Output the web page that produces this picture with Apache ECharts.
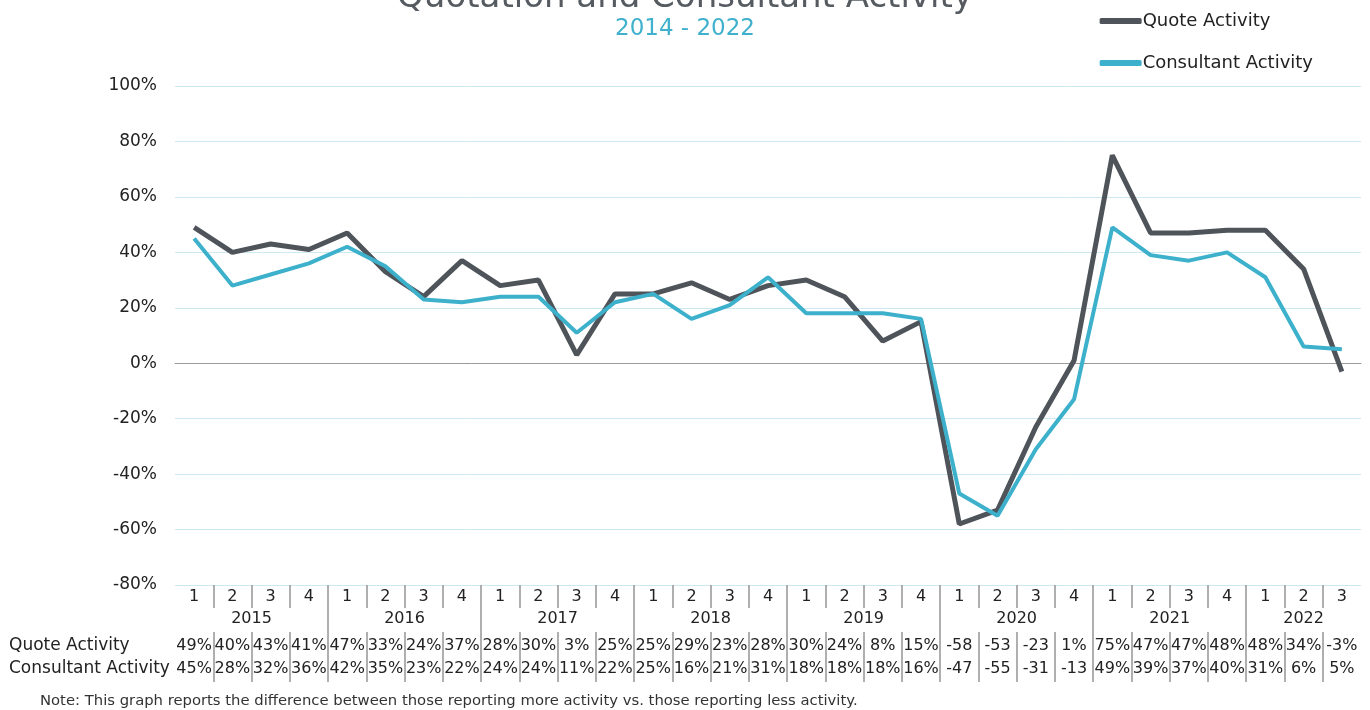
<!DOCTYPE html>
<html>
<head>
<meta charset="utf-8">
<title>Quotation and Consultant Activity</title>
<script src="https://cdn.jsdelivr.net/npm/echarts@6/dist/echarts.min.js"></script>
<style>
  html, body { margin: 0; padding: 0; background: #fff; }
  #chart { width: 1370px; height: 710px; }
</style>
</head>
<body>
<div id="chart"></div>
<script>
// 年份与每年季度数
var years = ['2015', '2016', '2017', '2018', '2019', '2020', '2021', '2022'];
var quartersPerYear = [4, 4, 4, 4, 4, 4, 4, 3];

// 数据（百分比）
var quoteActivity = [49, 40, 43, 41, 47, 33, 24, 37, 28, 30, 3, 25, 25, 29, 23, 28,
  30, 24, 8, 15, -58, -53, -23, 1, 75, 47, 47, 48, 48, 34, -3];
var consultantActivity = [45, 28, 32, 36, 42, 35, 23, 22, 24, 24, 11, 22, 25, 16, 21, 31,
  18, 18, 18, 16, -47, -55, -31, -13, 49, 39, 37, 40, 31, 6, 5];

var yTicks = [-80, -60, -40, -20, 0, 20, 40, 60, 80, 100];

// 季度标签
var quarters = [];
var yearBounds = [];
var yearCenters = [];
var pos = 0;
for (var i = 0; i < years.length; i++) {
  for (var q = 1; q <= quartersPerYear[i]; q++) quarters.push(String(q));
  yearCenters.push(pos + quartersPerYear[i] / 2);
  pos += quartersPerYear[i];
  if (i < years.length - 1) yearBounds.push(pos);
}
var n = quarters.length;
var cellCenters = [];
var innerBounds = [];
for (var k = 0; k < n; k++) {
  cellCenters.push(k + 0.5);
  if (k > 0) innerBounds.push(k);
}

function fmtCell(v) {
  return v <= -10 ? String(v) : v + '%';
}

var FONT = 'DejaVu Sans';
var tickStyle = { color: '#959595', width: 1.5 };

var chart = echarts.init(document.getElementById('chart'));
chart.setOption({
  animation: false,
  textStyle: { fontFamily: FONT },
  title: [{
    text: 'Quotation and Consultant Activity',
    subtext: '2014 - 2022',
    left: 'center',
    top: -24,
    itemGap: 3,
    textStyle: { fontFamily: FONT, fontSize: 34, fontWeight: 'normal', color: '#555b60' },
    subtextStyle: { fontFamily: FONT, fontSize: 23, color: '#3fb1cc' }
  }, {
    text: 'Note: This graph reports the difference between those reporting more activity vs. those reporting less activity.',
    left: 35,
    top: 689,
    textStyle: { fontFamily: FONT, fontSize: 14.8, fontWeight: 'normal', color: '#333' }
  }],
  legend: {
    orient: 'vertical',
    right: 52,
    top: 7,
    itemGap: 24,
    itemWidth: 42,
    itemHeight: 6,
    icon: 'roundRect',
    textStyle: { fontFamily: FONT, fontSize: 18, color: '#222', padding: [0, 0, 0, -4] },
    data: ['Quote Activity', 'Consultant Activity']
  },
  grid: { left: 175, right: 9, top: 86, bottom: 125 },
  xAxis: [{
    type: 'category',
    data: quarters,
    boundaryGap: true,
    axisLine: { onZero: true, lineStyle: { color: '#9a9a9a', width: 1 } },
    axisTick: { show: false },
    axisLabel: { show: false }
  }, {
    // 季度行
    type: 'value',
    position: 'bottom',
    min: 0, max: n,
    offset: 0,
    splitLine: { show: false },
    axisLine: { show: false },
    axisTick: { show: true, customValues: innerBounds, length: 23, lineStyle: tickStyle },
    axisLabel: {
      customValues: cellCenters,
      margin: 4,
      verticalAlign: 'top',
      fontSize: 16, color: '#222',
      formatter: function (v) { return quarters[Math.floor(v)]; }
    }
  }, {
    // 年份行
    type: 'value',
    position: 'bottom',
    min: 0, max: n,
    offset: 0,
    splitLine: { show: false },
    axisLine: { show: false },
    axisTick: { show: true, customValues: yearBounds, length: 47, lineStyle: tickStyle },
    axisLabel: {
      customValues: yearCenters,
      margin: 26,
      verticalAlign: 'top',
      fontSize: 16, color: '#222',
      formatter: function (v) { return years[yearCenters.indexOf(v)]; }
    }
  }, {
    // 数据表
    type: 'value',
    position: 'bottom',
    min: 0, max: n,
    offset: 47,
    name: 'Quote Activity\nConsultant Activity',
    nameLocation: 'start',
    nameGap: 166,
    nameTextStyle: { align: 'left', verticalAlign: 'top', fontSize: 17, lineHeight: 23, color: '#222', padding: [2, 0, 0, 0] },
    splitLine: { show: false },
    axisLine: { show: false },
    axisTick: { show: true, customValues: innerBounds, length: 50, lineStyle: tickStyle },
    axisLabel: {
      customValues: cellCenters,
      margin: 2,
      verticalAlign: 'top',
      lineHeight: 23,
      fontSize: 16, color: '#222',
      formatter: function (v) {
        var i = Math.floor(v);
        return fmtCell(quoteActivity[i]) + '\n' + fmtCell(consultantActivity[i]);
      }
    }
  }],
  yAxis: {
    type: 'value',
    min: yTicks[0],
    max: yTicks[yTicks.length - 1],
    interval: 20,
    axisLine: { show: false },
    axisTick: { show: false },
    axisLabel: { fontSize: 17, color: '#222', margin: 18, formatter: '{value}%' },
    splitLine: { lineStyle: { color: '#cce8f0', width: 1 } }
  },
  series: [{
    name: 'Quote Activity',
    type: 'line',
    data: quoteActivity,
    symbol: 'none',
    itemStyle: { color: '#4e5459' },
    lineStyle: { color: '#4e5459', width: 5 }
  }, {
    name: 'Consultant Activity',
    type: 'line',
    data: consultantActivity,
    symbol: 'none',
    itemStyle: { color: '#3db1cb' },
    lineStyle: { color: '#3db1cb', width: 4 }
  }]
});
</script>
</body>
</html>
